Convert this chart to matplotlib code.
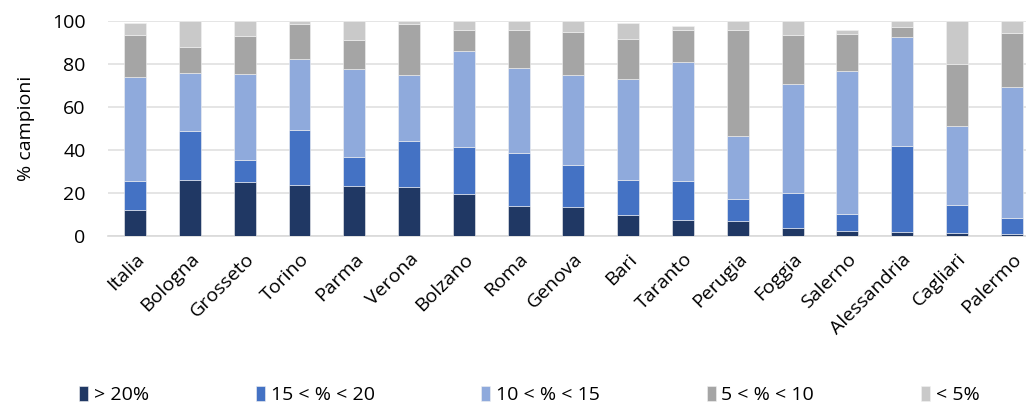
import numpy as np
import matplotlib
matplotlib.use("Agg")
import matplotlib.pyplot as plt

plt.rcParams['font.family'] = ['Open Sans', 'DejaVu Sans']

citta = ['Italia', 'Bologna', 'Grosseto', 'Torino', 'Parma', 'Verona', 'Bolzano', 'Roma',
         'Genova', 'Bari', 'Taranto', 'Perugia', 'Foggia', 'Salerno', 'Alessandria',
         'Cagliari', 'Palermo']

# valori cumulati
cum_20 = [12.3, 26.3, 25.2, 23.8, 23.4, 22.9, 19.8, 13.9, 13.6, 9.8, 7.3, 7.0, 3.9, 2.6, 1.9, 1.4, 0.8]
cum_15 = [25.9, 49.2, 35.5, 49.5, 36.8, 44.4, 41.6, 38.8, 33.0, 26.2, 25.7, 17.1, 20.1, 10.3, 42.1, 14.3, 8.6]
cum_10 = [74.0, 75.9, 75.4, 82.7, 78.0, 75.2, 86.1, 78.3, 74.9, 73.2, 81.0, 46.7, 70.7, 76.8, 92.8, 51.1, 69.3]
cum_5 = [93.8, 88.3, 93.0, 98.6, 91.3, 98.6, 95.8, 95.8, 94.9, 91.7, 95.8, 95.8, 93.5, 94.2, 97.2, 80.1, 94.4]
cum_tot = [99.2, 100, 100, 100, 100, 100, 100, 100, 100, 99.5, 97.8, 100, 100, 96.1, 100, 100, 100]

etichette = ['> 20%', '15 < % < 20', '10 < % < 15', '5 < % < 10', '< 5%']
colori = ['#203864', '#4472C4', '#8FAADC', '#A5A5A5', '#C9C9C9']

cumulati = [np.zeros(len(citta)), np.array(cum_20), np.array(cum_15),
            np.array(cum_10), np.array(cum_5), np.array(cum_tot)]

fig = plt.figure(figsize=(10.26, 4.05), dpi=100)
ax = fig.add_axes([0.105, 0.417, 0.895, 0.530])

x = np.arange(len(citta))
for i in range(5):
    ax.bar(x, cumulati[i + 1] - cumulati[i], bottom=cumulati[i], width=0.4,
           color=colori[i], edgecolor='#f2f2f2', linewidth=0.4, label=etichette[i], zorder=3)

ax.set_ylim(0, 100)
ax.set_xlim(-0.5, 16.26)
ax.set_yticks([0, 20, 40, 60, 80, 100])
ax.yaxis.grid(True, color='#e0e0e0', linewidth=1.2, zorder=0)
ax.set_axisbelow(True)
for s in ['top', 'right', 'left']:
    ax.spines[s].set_visible(False)
ax.spines['bottom'].set_color('#d9d9d9')
ax.spines['bottom'].set_linewidth(1.2)
ax.tick_params(axis='both', length=0, labelsize=14, colors='black')
ax.tick_params(axis='y', pad=16)
ax.tick_params(axis='x', pad=10)
ax.set_xticks(x)
ax.set_xticklabels(citta, rotation=45, ha='right', rotation_mode='anchor')
ax.set_ylabel('% campioni', fontsize=14, labelpad=12)

fig.legend(loc='center', bbox_to_anchor=(0.516, 0.025), ncol=5, frameon=False,
           fontsize=14, handlelength=0.45, handleheight=0.8, handletextpad=0.3,
           columnspacing=5.5)

fig.savefig('out.png', dpi=100)
